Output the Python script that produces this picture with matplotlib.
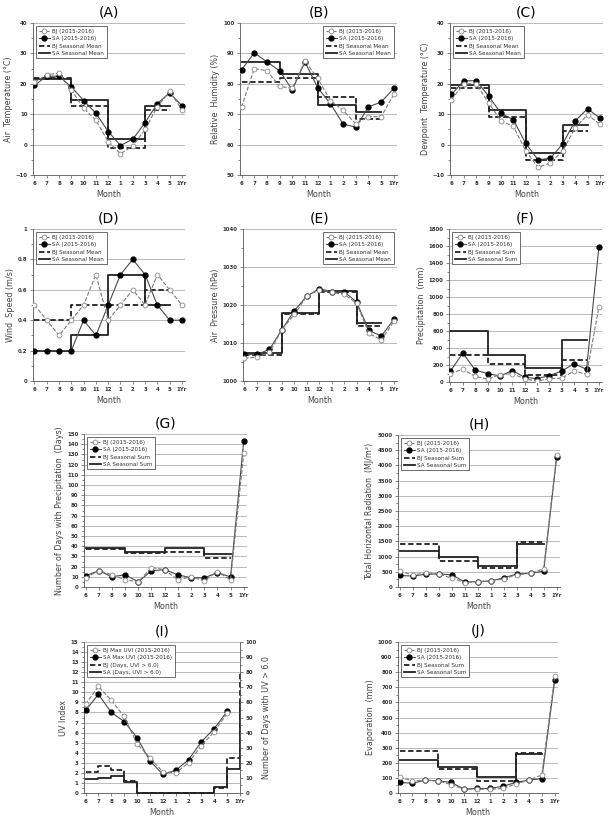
import numpy as np
import matplotlib
matplotlib.use("Agg")
import matplotlib.pyplot as plt
from matplotlib.ticker import MultipleLocator, FormatStrFormatter
from matplotlib.lines import Line2D

# ------------------------------------------------------------------
# Data
# ------------------------------------------------------------------
MONTHS = ["6", "7", "8", "9", "10", "11", "12", "1", "2", "3", "4", "5", "1Yr"]
SEASON_EDGES = [0, 3, 6, 9, 11]   # month-index boundaries: 6, 9, 12, 3, 5

temp_bj = [20.5, 23, 23.5, 18, 12, 8, 1, -3, -0.5, 5, 12.5, 17.5, 11.5]
temp_sa = [19.5, 22.5, 22.5, 19, 14.5, 10.3, 4.3, -0.3, 1.8, 7.2, 13.5, 17, 12.8]
temp_bj_season = [22, 12.8, -1, 11.3]
temp_sa_season = [21.5, 14.7, 1.8, 12.7]

rh_bj = [72.3, 85, 84.3, 79.2, 78.5, 87.5, 81.8, 74.5, 71.3, 66.8, 69.2, 69.2, 76.5]
rh_sa = [84.6, 90.2, 87.2, 84.3, 78, 87.2, 78.7, 73.5, 66.8, 65.7, 72.4, 74, 78.5]
rh_bj_season = [80.5, 81.8, 75.8, 68.3]
rh_sa_season = [87.3, 83.3, 73, 70.7]

dew_bj = [14.8, 20, 20, 13.8, 7.8, 6, -2, -7.5, -6, -2, 5.5, 9.8, 6.7]
dew_sa = [16.5, 21, 21, 16, 10.3, 8.2, 0.4, -5, -4.5, 0.3, 7.8, 11.8, 8.7]
dew_bj_season = [18.5, 9.2, -5.2, 4.5]
dew_sa_season = [19.7, 11.5, -2.8, 6.6]

wind_bj = [0.5, 0.4, 0.3, 0.4, 0.5, 0.7, 0.4, 0.5, 0.6, 0.5, 0.7, 0.6, 0.5]
wind_sa = [0.2, 0.2, 0.2, 0.2, 0.4, 0.3, 0.5, 0.7, 0.8, 0.7, 0.5, 0.4, 0.4]
wind_bj_season = [0.4, 0.5, 0.5, 0.6]
wind_sa_season = [0.2, 0.3, 0.7, 0.5]

pres_bj = [1006, 1006.3, 1007.5, 1013.5, 1017.5, 1022.3, 1024, 1023.3, 1022.8, 1020.5, 1012.5, 1010.8, 1015.7]
pres_sa = [1007, 1007, 1008.3, 1013.5, 1018.5, 1022.3, 1024.3, 1023.5, 1023.5, 1020.8, 1013.3, 1011.8, 1016.3]
pres_bj_season = [1006.8, 1017.7, 1023.3, 1014.6]
pres_sa_season = [1007.3, 1018, 1023.8, 1015.2]

prec_bj = [100, 150, 65, 35, 85, 100, 35, 10, 40, 45, 130, 90, 880]
prec_sa = [130, 340, 140, 100, 70, 135, 55, 40, 75, 130, 215, 150, 1590]
prec_bj_season = [320, 215, 85, 260]
prec_sa_season = [605, 320, 165, 500]

pdays_bj = [9, 16, 12, 7, 5, 19, 17, 7, 10, 6, 15, 7, 131]
pdays_sa = [11, 16, 10, 12, 5, 16, 17, 12, 9, 9, 14, 10, 143]
pdays_bj_season = [37, 33, 34.5, 28]
pdays_sa_season = [38, 34, 38, 32.5]

rad_bj = [520, 400, 460, 430, 290, 140, 180, 200, 270, 410, 450, 600, 4350]
rad_sa = [380, 360, 420, 430, 400, 160, 180, 200, 310, 430, 450, 520, 4280]
rad_bj_season = [1400, 860, 620, 1480]
rad_sa_season = [1180, 990, 700, 1400]

uvi_bj = [8.8, 10.6, 9.2, 7.6, 4.9, 3.5, 2.1, 2.0, 3.0, 4.7, 6.1, 7.9]
uvi_sa = [8.2, 9.8, 8.0, 7.1, 5.5, 3.2, 1.85, 2.25, 3.3, 5.1, 6.4, 8.1]
uvdays_bj = [14, 18, 15, 8, 0, 0, 0, 0, 0, 0, 3.5, 23, 80]
uvdays_sa = [9, 10, 11, 7, 0, 0, 0, 0, 0, 0, 4, 16, 60]

evap_bj = [105, 80, 85, 80, 55, 25, 25, 25, 30, 60, 85, 120, 775]
evap_sa = [70, 65, 85, 80, 70, 25, 30, 30, 45, 70, 85, 95, 750]
evap_bj_season = [275, 160, 80, 265]
evap_sa_season = [220, 175, 105, 255]

# ------------------------------------------------------------------
# Style
# ------------------------------------------------------------------
W, H = 612, 819
plt.rcParams["font.family"] = "DejaVu Sans"
GRID_C = "#b0b0b0"
SPINE_C = "#555555"
BJ_LINE = "#7a7a7a"
SA_LINE = "#4a4a4a"
TICK_FS = 3.9
LABEL_FS = 5.8
MS = 3.5


def add_panel(fig, box):
    l, t, r, b = box
    return fig.add_axes([l / W, 1 - b / H, (r - l) / W, (b - t) / H])


def style_axes(ax, ylim, major, minor, fmt=None, xmax=12.25):
    ax.set_xlim(-0.12, xmax)
    ax.set_ylim(*ylim)
    ax.set_xticks(range(len(MONTHS)))
    ax.set_xticklabels(MONTHS)
    ax.yaxis.set_major_locator(MultipleLocator(major))
    ax.yaxis.set_minor_locator(MultipleLocator(minor))
    if fmt:
        ax.yaxis.set_major_formatter(FormatStrFormatter(fmt))
    ax.grid(axis="y", color=GRID_C, lw=0.6)
    ax.set_axisbelow(True)
    for s in ["top", "right"]:
        ax.spines[s].set_visible(False)
    for s in ["left", "bottom"]:
        ax.spines[s].set_color(SPINE_C)
        ax.spines[s].set_linewidth(0.6)
    ax.tick_params(axis="both", which="both", labelsize=TICK_FS, color=SPINE_C,
                   width=0.5, pad=1.5)
    ax.tick_params(which="major", length=2.5)
    ax.tick_params(which="minor", length=1.5)
    for lab in ax.get_xticklabels() + ax.get_yticklabels():
        lab.set_fontweight("bold")
        lab.set_color("#333333")
    ax.set_xlabel("Month", fontsize=LABEL_FS, color="#444444", labelpad=3)


def ylabel(ax, txt):
    ax.set_ylabel(txt, fontsize=LABEL_FS, color="#444444", labelpad=2)


def data_lines(ax, bj, sa):
    x = np.arange(len(bj))
    ax.plot(x, bj, ls="--", color=BJ_LINE, lw=0.8, marker="o", ms=MS,
            mfc="white", mec="#8a8a8a", mew=0.6, zorder=4)
    ax.plot(x, sa, ls="-", color=SA_LINE, lw=0.8, marker="o", ms=MS,
            mfc="black", mec="black", zorder=3)


def season_lines(ax, bj_s, sa_s):
    ax.plot(SEASON_EDGES, bj_s + [bj_s[-1]], drawstyle="steps-post",
            ls=(0, (3, 1.5)), color="#222222", lw=1.3, zorder=2)
    ax.plot(SEASON_EDGES, sa_s + [sa_s[-1]], drawstyle="steps-post",
            ls="-", color="#222222", lw=1.3, zorder=2)


def legend(ax, labels, loc):
    handles = [
        Line2D([], [], ls="--", color=BJ_LINE, lw=0.8, marker="o", ms=MS,
               mfc="white", mec="#8a8a8a", mew=0.6),
        Line2D([], [], ls="-", color=SA_LINE, lw=0.8, marker="o", ms=MS,
               mfc="black", mec="black"),
        Line2D([], [], ls=(0, (3, 1.5)), color="#222222", lw=1.3),
        Line2D([], [], ls="-", color="#222222", lw=1.3),
    ]
    leg = ax.legend(handles, labels, loc=loc, fontsize=4.1, frameon=True,
                    fancybox=False, edgecolor="#555555", framealpha=1,
                    handlelength=1.9, handletextpad=0.4, borderpad=0.45,
                    labelspacing=0.4, borderaxespad=0.6)
    leg.get_frame().set_linewidth(0.6)
    for t in leg.get_texts():
        t.set_color("#333333")


def title(ax, txt):
    ax.set_title(txt, fontsize=10, pad=5)


def mean_labels():
    return ["BJ (2015-2016)", "SA (2015-2016)", "BJ Seasonal Mean", "SA Seasonal Mean"]


def sum_labels():
    return ["BJ (2015-2016)", "SA (2015-2016)", "BJ Seasonal Sum", "SA Seasonal Sum"]


def main():
    fig = plt.figure(figsize=(W / 100, H / 100), dpi=100)

    # (A)
    ax = add_panel(fig, (33, 23, 185, 175))
    season_lines(ax, temp_bj_season, temp_sa_season)
    data_lines(ax, temp_bj, temp_sa)
    style_axes(ax, (-10, 40), 10, 5)
    ylabel(ax, "Air  Temperature (\u00b0C)")
    legend(ax, mean_labels(), "upper left")
    title(ax, "(A)")

    # (B)
    ax = add_panel(fig, (240, 23, 397, 175))
    season_lines(ax, rh_bj_season, rh_sa_season)
    data_lines(ax, rh_bj, rh_sa)
    style_axes(ax, (50, 100), 10, 5)
    ylabel(ax, "Relative  Humidity (%)")
    legend(ax, mean_labels(), "upper right")
    title(ax, "(B)")

    # (C)
    ax = add_panel(fig, (450, 23, 603, 175))
    season_lines(ax, dew_bj_season, dew_sa_season)
    data_lines(ax, dew_bj, dew_sa)
    style_axes(ax, (-10, 40), 10, 5)
    ylabel(ax, "Dewpoint  Temperature (\u00b0C)")
    legend(ax, mean_labels(), "upper left")
    title(ax, "(C)")

    # (D)
    ax = add_panel(fig, (33, 229, 185, 381))
    season_lines(ax, wind_bj_season, wind_sa_season)
    data_lines(ax, wind_bj, wind_sa)
    style_axes(ax, (0, 1), 0.2, 0.1)
    ax.set_yticks([0, 0.2, 0.4, 0.6, 0.8, 1.0])
    ax.set_yticklabels(["0", "0.2", "0.4", "0.6", "0.8", "1"], fontweight="bold",
                       color="#333333")
    ylabel(ax, "Wind  Speed (m/s)")
    legend(ax, mean_labels(), "upper left")
    title(ax, "(D)")

    # (E)
    ax = add_panel(fig, (243, 229, 397, 381))
    season_lines(ax, pres_bj_season, pres_sa_season)
    data_lines(ax, pres_bj, pres_sa)
    style_axes(ax, (1000, 1040), 10, 5)
    ylabel(ax, "Air  Pressure (hPa)")
    legend(ax, mean_labels(), "upper right")
    title(ax, "(E)")

    # (F)
    ax = add_panel(fig, (449, 229, 602, 382))
    season_lines(ax, prec_bj_season, prec_sa_season)
    data_lines(ax, prec_bj, prec_sa)
    style_axes(ax, (0, 1800), 200, 100)
    ylabel(ax, "Precipitation  (mm)")
    legend(ax, sum_labels(), "upper left")
    title(ax, "(F)")

    # (G)
    ax = add_panel(fig, (84, 434, 247, 587))
    season_lines(ax, pdays_bj_season, pdays_sa_season)
    data_lines(ax, pdays_bj, pdays_sa)
    style_axes(ax, (0, 150), 10, 5)
    ylabel(ax, "Number of Days with Precipitation  (Days)")
    legend(ax, sum_labels(), "upper left")
    title(ax, "(G)")

    # (H)
    ax = add_panel(fig, (398, 435, 560, 587))
    season_lines(ax, rad_bj_season, rad_sa_season)
    data_lines(ax, rad_bj, rad_sa)
    style_axes(ax, (0, 5000), 500, 250)
    ylabel(ax, "Total Horizontal Radiation  (MJ/m\u00b2)")
    legend(ax, sum_labels(), "upper left")
    title(ax, "(H)")

    # (I) UV index with days-above-6 on a twin axis
    ax = add_panel(fig, (84, 642, 240, 793))
    ax2 = ax.twinx()
    x_uv = np.arange(len(uvi_bj))
    x_days = np.arange(len(uvdays_bj))
    ax.plot(x_uv, uvi_bj, ls="--", color=BJ_LINE, lw=0.8, marker="o", ms=MS,
            mfc="white", mec="#8a8a8a", mew=0.6, zorder=4)
    ax.plot(x_uv, uvi_sa, ls="-", color=SA_LINE, lw=0.8, marker="o", ms=MS,
            mfc="black", mec="black", zorder=3)
    ax2.plot(x_days, uvdays_bj, drawstyle="steps-post", ls=(0, (3, 1.5)),
             color="#222222", lw=1.3, clip_on=False)
    ax2.plot(x_days, uvdays_sa, drawstyle="steps-post", ls="-",
             color="#222222", lw=1.3, clip_on=False)
    style_axes(ax, (0, 15), 1, 0.5, xmax=12)
    ylabel(ax, "UV Index")
    ax2.set_ylim(0, 100)
    ax2.yaxis.set_major_locator(MultipleLocator(10))
    ax2.yaxis.set_minor_locator(MultipleLocator(5))
    for s in ["top", "left", "bottom"]:
        ax2.spines[s].set_visible(False)
    ax2.spines["right"].set_color(SPINE_C)
    ax2.spines["right"].set_linewidth(0.6)
    ax2.tick_params(which="both", labelsize=TICK_FS, color=SPINE_C, width=0.5, pad=1.5)
    ax2.tick_params(which="major", length=2.5)
    ax2.tick_params(which="minor", length=1.5)
    for lab in ax2.get_yticklabels():
        lab.set_fontweight("bold")
        lab.set_color("#333333")
    ax2.set_ylabel("Number of Days with UV > 6.0", fontsize=LABEL_FS, color="#444444")
    legend(ax2, ["BJ Max UVI (2015-2016)", "SA Max UVI (2015-2016)",
                 "BJ (Days, UVI > 6.0)", "SA (Days, UVI > 6.0)"], "upper left")
    title(ax, "(I)")

    # (J)
    ax = add_panel(fig, (398, 642, 558, 793))
    season_lines(ax, evap_bj_season, evap_sa_season)
    data_lines(ax, evap_bj, evap_sa)
    style_axes(ax, (0, 1000), 100, 50)
    ylabel(ax, "Evaporation  (mm)")
    legend(ax, sum_labels(), "upper left")
    title(ax, "(J)")

    fig.savefig("out.png", dpi=100)
    plt.close(fig)


if __name__ == "__main__":
    main()
